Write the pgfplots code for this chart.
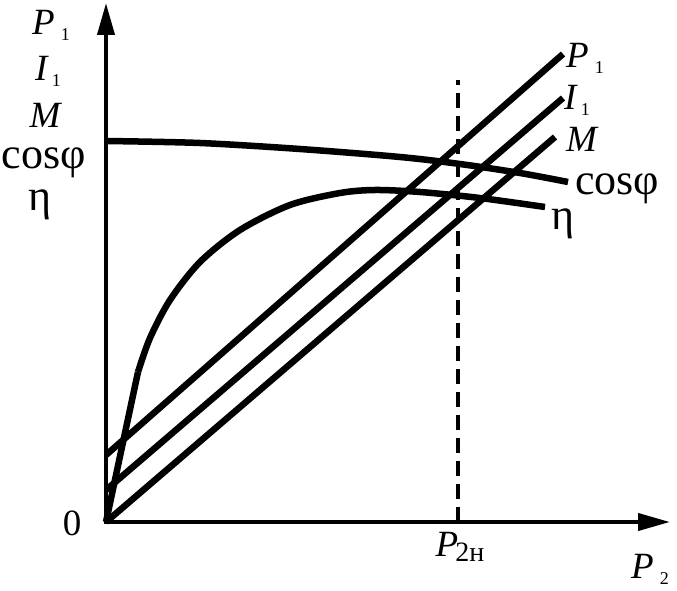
\documentclass[border=0pt]{standalone}
\usepackage{pgfplots}
\pgfplotsset{compat=1.18}
\usepackage{fontspec}
\setmainfont{Liberation Serif}
\usetikzlibrary{arrows.meta}

\newcommand{\lbl}{\fontsize{37}{39}\selectfont}
\newcommand{\lblb}{\fontsize{44}{46}\selectfont}
\newcommand{\sub}[1]{\raisebox{-6pt}{\fontsize{18}{18}\selectfont #1}}

\begin{document}
\begin{tikzpicture}[every node/.style={inner sep=0pt}]
\begin{axis}[
  x=1pt, y=1pt,
  xmin=0, xmax=677, ymin=0, ymax=590,
  hide axis, clip=false,
  curve/.style={black, line width=6.5pt, mark=none, line join=round},
]
\path (axis cs:0,0) rectangle (axis cs:677,590);

% axes
\draw[line width=4pt, -{Triangle[length=32pt,width=17pt]}] (axis cs:106,68) -- (axis cs:106,587);
\draw[line width=4pt, -{Triangle[length=32pt,width=17pt]}] (axis cs:104,68) -- (axis cs:670,68);
\draw[line width=4.5pt, dash pattern=on 15pt off 8pt] (axis cs:458,68) -- (axis cs:458,510);

% straight lines
\addplot[curve] coordinates {(106,135) (563,536)};
\addplot[curve] coordinates {(106,100) (563,492)};
\addplot[curve] coordinates {(106,68) (555,453)};
% cos phi
\addplot[curve, smooth] coordinates {(106,449) (200,447) (300,441) (400,433) (460,426) (520,417) (568,408)};
% eta
\addplot[curve] coordinates {(106,68) (138,218)};
\addplot[curve, smooth] coordinates {(138,218) (150,252) (170,290) (200,328) (240,360) (290,385) (340,397) (375,400) (420,398) (480,392) (545,383)};

% left labels
\node[font=\lbl] at (axis cs:51,565) {\textit{P}\hspace{6pt}\sub{1}};
\node[font=\lbl] at (axis cs:48,519) {\textit{I}\hspace{3pt}\sub{1}};
\node[font=\lbl] at (axis cs:46,475) {\textit{M}};
\node[font=\lblb] at (axis cs:44,427) {cosφ};
\node[font=\lblb] at (axis cs:40,385) {η};
\node[font=\lbl] at (axis cs:72,67) {0};

% right labels
\node[font=\lbl, anchor=west] at (axis cs:566,532) {\textit{P}\hspace{6pt}\sub{1}};
\node[font=\lbl, anchor=west] at (axis cs:564,490) {\textit{I}\hspace{3pt}\sub{1}};
\node[font=\lbl, anchor=west] at (axis cs:566,451) {\textit{M}};
\node[font=\lblb, anchor=west] at (axis cs:575,401) {cosφ};
\node[font=\lblb, anchor=west] at (axis cs:551,366) {η};

% bottom labels
\node[font=\lbl] at (axis cs:460,43) {\textit{P}\kern-3pt\raisebox{-5pt}{\fontsize{28}{28}\selectfont 2н}};
\node[font=\lbl] at (axis cs:650,21) {\textit{P}\hspace{6pt}\sub{2}};
\end{axis}
\end{tikzpicture}
\end{document}
